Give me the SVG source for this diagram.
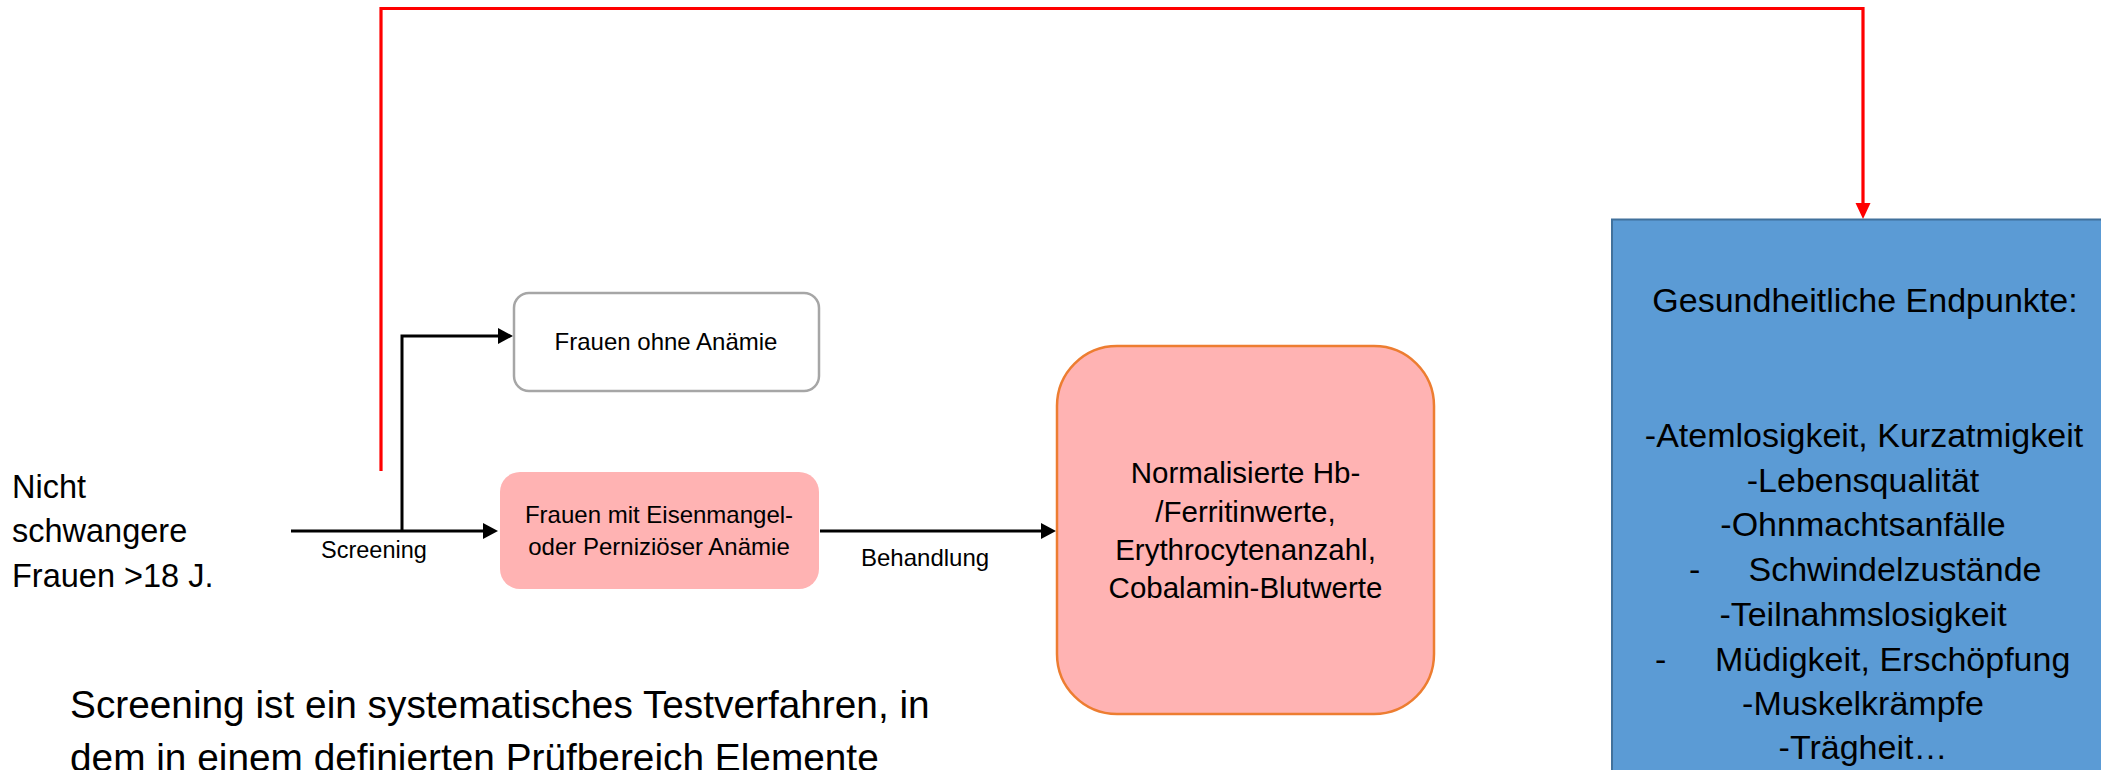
<svg xmlns="http://www.w3.org/2000/svg" width="2101" height="770" viewBox="0 0 2101 770">
<style>
text{font-family:"Liberation Sans",Arial,sans-serif;fill:#000}
.c{text-anchor:middle}
.blk{fill:none;stroke:#000;stroke-width:3}
.red{fill:none;stroke:#ff0000;stroke-width:3.2}
</style>
<defs>
<marker id="ab" markerUnits="userSpaceOnUse" markerWidth="16" markerHeight="17" refX="0" refY="8" orient="auto" overflow="visible"><path d="M0,0 L15,8 L0,16 z" fill="#000"/></marker>
<marker id="ar" markerUnits="userSpaceOnUse" markerWidth="17" markerHeight="16" refX="0" refY="7.5" orient="auto" overflow="visible"><path d="M0,0 L16,7.5 L0,15 z" fill="#ff0000"/></marker>
</defs>
<rect width="2101" height="770" fill="#fff"/>

<g id="connectors">
<path class="red" d="M381 471 V8.5 H1863 V203" marker-end="url(#ar)"/>
<path class="blk" d="M291 531 H483" marker-end="url(#ab)"/>
<path class="blk" d="M402 531 V336 H498" marker-end="url(#ab)"/>
<path class="blk" d="M820 531 H1041" marker-end="url(#ab)"/>
<text x="321" y="558" font-size="23.5">Screening</text>
<text x="861" y="566" font-size="24">Behandlung</text>
</g>

<g id="start">
<text x="12" y="498" font-size="32.5">Nicht</text>
<text x="12" y="542" font-size="32.5">schwangere</text>
<text x="12" y="587" font-size="32.5">Frauen &gt;18 J.</text>
</g>

<g id="ohne">
<rect x="514" y="293" width="305" height="98" rx="15" fill="#fff" stroke="#a6a6a6" stroke-width="2.5"/>
<text class="c" x="666" y="350" font-size="24">Frauen ohne Anämie</text>
</g>

<g id="mit">
<rect x="500" y="472" width="319" height="117" rx="20" fill="#ffb3b3"/>
<text class="c" x="659" y="523" font-size="24">Frauen mit Eisenmangel-</text>
<text class="c" x="659" y="555" font-size="24">oder Perniziöser Anämie</text>
</g>

<g id="normal">
<rect x="1057" y="346" width="377" height="368" rx="60" fill="#ffb3b3" stroke="#ed7d31" stroke-width="2.5"/>
<text class="c" x="1245.5" y="483" font-size="29.5">Normalisierte Hb-</text>
<text class="c" x="1245.5" y="522" font-size="29.5">/Ferritinwerte,</text>
<text class="c" x="1245.5" y="560" font-size="29.5">Erythrocytenanzahl,</text>
<text class="c" x="1245.5" y="598" font-size="29.5">Cobalamin-Blutwerte</text>
</g>

<g id="endpunkte">
<rect x="1612" y="219.5" width="510" height="600" fill="#5b9bd5" stroke="#41719c" stroke-width="2"/>
<text class="c" x="1865" y="312" font-size="34">Gesundheitliche Endpunkte:</text>
<text class="c" x="1864" y="447" font-size="34">-Atemlosigkeit, Kurzatmigkeit</text>
<text class="c" x="1863" y="491.5" font-size="34">-Lebensqualität</text>
<text class="c" x="1863" y="536" font-size="34">-Ohnmachtsanfälle</text>
<text x="1689" y="581" font-size="34">-</text>
<text x="1748.5" y="581" font-size="34">Schwindelzustände</text>
<text class="c" x="1863" y="626" font-size="34">-Teilnahmslosigkeit</text>
<text x="1655" y="671" font-size="34">-</text>
<text x="1715" y="671" font-size="34">Müdigkeit, Erschöpfung</text>
<text class="c" x="1863" y="714.5" font-size="34">-Muskelkrämpfe</text>
<text class="c" x="1863" y="759" font-size="34">-Trägheit…</text>
</g>

<g id="note">
<text x="70" y="718" font-size="38.8">Screening ist ein systematisches Testverfahren, in</text>
<text x="70" y="771" font-size="38.8">dem in einem definierten Prüfbereich Elemente</text>
</g>
</svg>
